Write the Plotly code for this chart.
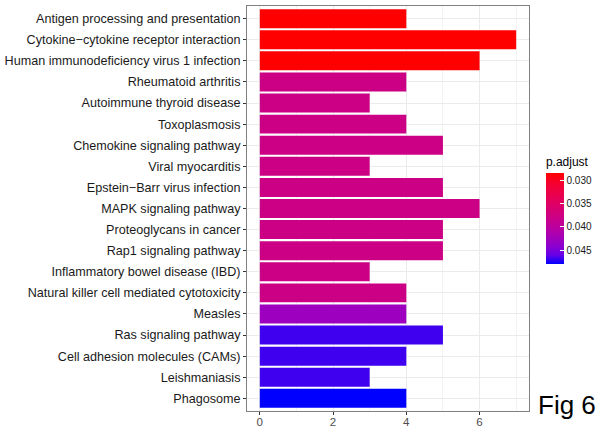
import numpy as np
import plotly.graph_objects as go

# KEGG enrichment results (top to bottom as drawn)
pathways = [
    "Antigen processing and presentation",
    "Cytokine\u2212cytokine receptor interaction",
    "Human immunodeficiency virus 1 infection",
    "Rheumatoid arthritis",
    "Autoimmune thyroid disease",
    "Toxoplasmosis",
    "Chemokine signaling pathway",
    "Viral myocarditis",
    "Epstein\u2212Barr virus infection",
    "MAPK signaling pathway",
    "Proteoglycans in cancer",
    "Rap1 signaling pathway",
    "Inflammatory bowel disease (IBD)",
    "Natural killer cell mediated cytotoxicity",
    "Measles",
    "Ras signaling pathway",
    "Cell adhesion molecules (CAMs)",
    "Leishmaniasis",
    "Phagosome",
]
gene_counts = [4, 7, 6, 4, 3, 4, 5, 3, 5, 6, 5, 5, 3, 4, 4, 5, 4, 3, 4]
p_adjust = [0.0285, 0.0285, 0.0285, 0.0380, 0.0380, 0.0380, 0.0380, 0.0380,
            0.0380, 0.0380, 0.0380, 0.0380, 0.0380, 0.0380, 0.0428, 0.0468,
            0.0468, 0.0468, 0.0480]
cbar_ticks = [0.030, 0.035, 0.040, 0.045]


# red -> blue gradient interpolated in CIELAB space
def srgb_to_lab(rgb):
    c = np.array(rgb, dtype=float) / 255.0
    c = np.where(c > 0.04045, ((c + 0.055) / 1.055) ** 2.4, c / 12.92)
    m = np.array([[0.4124, 0.3576, 0.1805],
                  [0.2126, 0.7152, 0.0722],
                  [0.0193, 0.1192, 0.9505]])
    xyz = m @ c / np.array([0.95047, 1.0, 1.08883])
    f = np.where(xyz > 0.008856, np.cbrt(xyz), 7.787 * xyz + 16 / 116)
    return np.array([116 * f[1] - 16, 500 * (f[0] - f[1]), 200 * (f[1] - f[2])])


def lab_to_hex(lab):
    L, a, b = lab
    fy = (L + 16) / 116
    fx = fy + a / 500
    fz = fy - b / 200
    f = np.array([fx, fy, fz])
    xyz = np.where(f ** 3 > 0.008856, f ** 3, (f - 16 / 116) / 7.787)
    xyz = xyz * np.array([0.95047, 1.0, 1.08883])
    m = np.array([[3.2406, -1.5372, -0.4986],
                  [-0.9689, 1.8758, 0.0415],
                  [0.0557, -0.2040, 1.0570]])
    c = m @ xyz
    c = np.where(c > 0.0031308, 1.055 * np.clip(c, 0, None) ** (1 / 2.4) - 0.055, 12.92 * c)
    c = np.clip(np.round(c * 255), 0, 255).astype(int)
    return "#%02x%02x%02x" % tuple(c)


lab_blue = srgb_to_lab((0, 0, 255))
lab_red = srgb_to_lab((255, 0, 0))
stops = np.linspace(0, 1, 11)
colorscale = [[float(t), lab_to_hex(lab_blue + (lab_red - lab_blue) * t)] for t in stops]

# colour by -p.adjust so the smallest values sit at the top of the colour bar
neg_p = [-p for p in p_adjust]

FONT = "Liberation Sans, Arial"

fig = go.Figure()
fig.add_trace(go.Bar(
    x=gene_counts,
    y=pathways,
    orientation="h",
    width=0.9,
    marker=dict(
        color=neg_p,
        colorscale=colorscale,
        cmin=-max(p_adjust),
        cmax=-min(p_adjust),
        line=dict(width=0),
        colorbar=dict(
            title=dict(text="p.adjust", side="top",
                       font=dict(family=FONT, size=12, color="#000000")),
            tickvals=[-t for t in cbar_ticks],
            ticktext=["%.3f" % t for t in cbar_ticks],
            tickfont=dict(family=FONT, size=10, color="#1a1a1a"),
            ticks="inside",
            ticklen=4,
            tickcolor="#ffffff",
            thickness=18,
            len=110,
            lenmode="pixels",
            x=1.06,
            xanchor="left",
            xref="paper",
            xpad=0,
            ypad=0,
            y=0.498,
            yanchor="middle",
            outlinewidth=0,
        ),
    ),
    hovertemplate="%{y}: %{x}<extra></extra>",
))

fig.update_layout(
    width=596,
    height=429,
    margin=dict(l=247, r=67, t=6, b=18, autoexpand=False),
    paper_bgcolor="#ffffff",
    plot_bgcolor="#ffffff",
    showlegend=False,
    bargap=0.1,
    font=dict(family=FONT, color="#4d4d4d"),
    xaxis=dict(
        range=[-0.35, 7.35],
        tickvals=[0, 2, 4, 6],
        showgrid=True,
        gridcolor="#ebebeb",
        gridwidth=1,
        minor=dict(tickvals=[1, 3, 5, 7], showgrid=True, gridcolor="#f3f3f3", gridwidth=0.6),
        zeroline=False,
        ticks="outside",
        ticklen=3,
        tickcolor="#333333",
        tickfont=dict(size=11.5, color="#4d4d4d"),
        ticklabelstandoff=-3,
        showline=True,
        linecolor="#808080",
        linewidth=1,
        mirror=True,
    ),
    yaxis=dict(
        categoryorder="array",
        categoryarray=pathways[::-1],
        range=[-0.6, len(pathways) - 0.4],
        showgrid=True,
        gridcolor="#ebebeb",
        gridwidth=1,
        zeroline=False,
        ticks="outside",
        ticklen=3,
        tickcolor="#333333",
        tickfont=dict(size=12.6, color="#1a1a1a"),
        showline=True,
        linecolor="#808080",
        linewidth=1,
        mirror=True,
    ),
    annotations=[
        dict(
            text="Fig 6",
            xref="paper", yref="paper",
            x=1.0, y=0.0,
            xanchor="left", yanchor="middle",
            xshift=7,
            yshift=6,
            showarrow=False,
            font=dict(family=FONT, size=26, color="#000000"),
        )
    ],
)

fig.write_html("out.html")
